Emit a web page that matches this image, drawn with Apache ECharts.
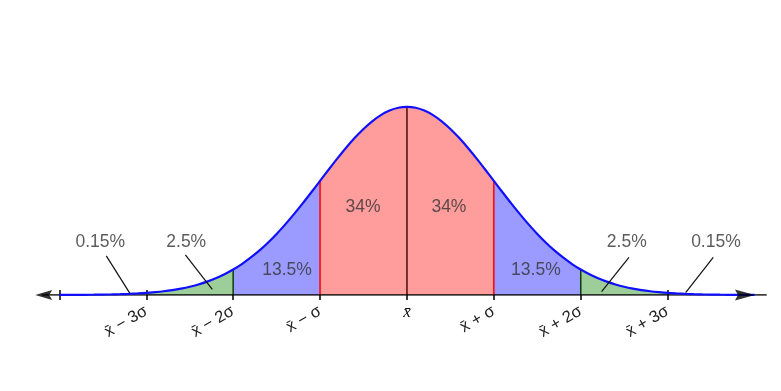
<!DOCTYPE html>
<html><head><meta charset="utf-8">
<script src="https://cdn.jsdelivr.net/npm/echarts@6/dist/echarts.min.js"></script>
<style>html,body{margin:0;padding:0;background:#fff}#c{width:781px;height:391px}</style>
</head><body><div id="c"></div><script>
// standardised positions (in sigma) and the read curve heights
const zValues = [-4,-3.9,-3.8,-3.7,-3.6,-3.5,-3.4,-3.3,-3.2,-3.1,-3,-2.9,-2.8,-2.7,-2.6,-2.5,-2.4,-2.3,-2.2,-2.1,
  -2,-1.9,-1.8,-1.7,-1.6,-1.5,-1.4,-1.3,-1.2,-1.1,-1,-0.9,-0.8,-0.7,-0.6,-0.5,-0.4,-0.3,-0.2,-0.1,
  0,0.1,0.2,0.3,0.4,0.5,0.6,0.7,0.8,0.9,1,1.1,1.2,1.3,1.4,1.5,1.6,1.7,1.8,1.9,
  2,2.1,2.2,2.3,2.4,2.5,2.6,2.7,2.8,2.9,3,3.1,3.2,3.3,3.4,3.5,3.6,3.7,3.8,3.9,4];
const density = [0.0001,0.0002,0.0003,0.0004,0.0006,0.0009,0.0012,0.0017,0.0024,0.0033,
  0.0044,0.0060,0.0079,0.0104,0.0136,0.0175,0.0224,0.0283,0.0355,0.0440,
  0.0540,0.0656,0.0790,0.0940,0.1109,0.1295,0.1497,0.1714,0.1942,0.2179,
  0.2420,0.2661,0.2897,0.3123,0.3332,0.3521,0.3683,0.3814,0.3910,0.3970,
  0.3989,0.3970,0.3910,0.3814,0.3683,0.3521,0.3332,0.3123,0.2897,0.2661,
  0.2420,0.2179,0.1942,0.1714,0.1497,0.1295,0.1109,0.0940,0.0790,0.0656,
  0.0540,0.0440,0.0355,0.0283,0.0224,0.0175,0.0136,0.0104,0.0079,0.0060,
  0.0044,0.0033,0.0024,0.0017,0.0012,0.0009,0.0006,0.0004,0.0003,0.0002,0.0001];
const tickValues = [-3,-2,-1,0,1,2,3];
const tickLabels = ['x\u0304 \u2212 3\u03c3','x\u0304 \u2212 2\u03c3','x\u0304 \u2212 \u03c3','x\u0304','x\u0304 + \u03c3','x\u0304 + 2\u03c3','x\u0304 + 3\u03c3'];
const percentLabels = ['0.15%','2.5%','13.5%','34%','34%','13.5%','2.5%','0.15%'];
const bandFrom = [-3,-2,-1,1,2];
const bandTo = [-2,-1,1,2,3];

const bandColors = ['#9dcd98','#9b9bff','#ff9c9c','#9b9bff','#9dcd98'];
const dividerAt = [-2,-1,0,1,2];
const dividerColors = ['#0b3d0b','#ff0000','#4a0a0a','#ff0000','#0b3d0b'];
const labelAnchor = [[-3.53,0.112],[-2.54,0.112],[-1.38,0.053],[-0.506,0.187],[0.483,0.187],[1.484,0.053],[2.53,0.112],[3.556,0.112]];
const leaders = [[[-3.46,0.083],[-3.19,0.004]],[[-2.55,0.085],[-2.24,0.012]],[[2.555,0.080],[2.24,0.007]],[[3.525,0.080],[3.207,0.005]]];

const curve = zValues.map((z,i)=>[z,density[i]]);
const heightAt = z => density[zValues.findIndex(v=>Math.abs(v-z)<1e-9)];
const series = [];
bandFrom.forEach((a,k)=>{
  series.push({type:'line',smooth:0.3,symbol:'none',z:1,silent:true,
    lineStyle:{width:0},areaStyle:{color:bandColors[k],opacity:1},
    data:curve.filter(p=>p[0]>=a-1e-9 && p[0]<=bandTo[k]+1e-9)});
});
dividerAt.forEach((z,k)=>{
  series.push({type:'line',symbol:'none',z:3,silent:true,
    lineStyle:{color:dividerColors[k],width:1.5},data:[[z,0],[z,heightAt(z)]]});
});
// axis line
series.push({type:'line',symbol:'none',z:4,silent:true,lineStyle:{color:'#000',width:1.6},data:[[-4.2,0],[4.14,0]]});
// curve
series.push({type:'line',smooth:0.3,symbol:'none',z:5,silent:true,lineStyle:{color:'#1010ff',width:2.2},data:curve});
// arrow heads
series.push({type:'scatter',z:6,silent:true,itemStyle:{color:'#000'},
  data:[{value:[-4.18,0],symbol:'path://M0 5 L17 0 L14 5 L17 10 Z',symbolSize:[17,10]},
        {value:[3.89,0],symbol:'path://M20 5 L0 0 L3 5 L0 10 Z',symbolSize:[20,11]}]});
// leader lines
leaders.forEach(seg=>{
  series.push({type:'line',symbol:'none',z:6,silent:true,lineStyle:{color:'#111',width:1.2},data:seg});
});
// percent labels
series.push({type:'scatter',z:7,silent:true,symbolSize:0,
  label:{show:true,position:'inside',formatter:'{b}',color:'#333',fontSize:17.5,fontFamily:'Liberation Sans'},
  data:percentLabels.map((t,i)=>({name:t,value:labelAnchor[i]}))});

const fmt = v => { const i = tickValues.indexOf(Math.round(v)); return i<0?'':tickLabels[i]; };
const option = {
  animation:false,
  grid:{left:35.9,right:14.3,top:12,bottom:96},
  xAxis:[
    {type:'value',min:-4.27,max:4.14,position:'bottom',splitLine:{show:false},axisLine:{show:false},
     axisTick:{show:true,customValues:[-4,-3,-2,-1,0,1,2,3],length:5,lineStyle:{color:'#000',width:1.5}},
     axisLabel:{customValues:[-3,-2,-1,1,2,3],rotate:30,margin:15,formatter:fmt,color:'#222',fontSize:16.5,fontFamily:'Liberation Sans'}},
    {type:'value',min:-4.27,max:4.14,position:'bottom',splitLine:{show:false},axisLine:{show:false},
     axisTick:{show:true,inside:true,customValues:[-4,-3,3],length:5,lineStyle:{color:'#000',width:1.5}},
     axisLabel:{customValues:[0],rotate:0,margin:9,formatter:fmt,color:'#111',fontSize:17,fontStyle:'italic',fontFamily:'Liberation Serif'}}
  ],
  yAxis:{type:'value',min:0,max:0.6,show:false,splitLine:{show:false}},
  series
};
echarts.init(document.getElementById('c'),null,{renderer:'canvas'}).setOption(option);
</script></body></html>
